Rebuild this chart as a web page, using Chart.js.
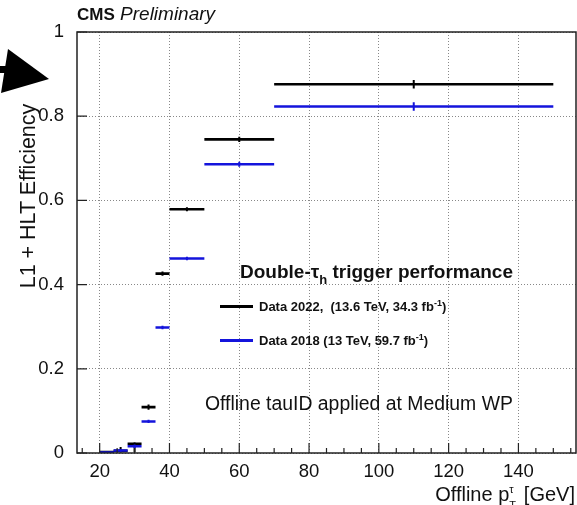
<!DOCTYPE html>
<html><head><meta charset="utf-8">
<script src="https://cdn.jsdelivr.net/npm/chart.js@4/dist/chart.umd.min.js"></script>
<style>
html,body{margin:0;padding:0;background:#fff;}
#wrap{position:relative;width:577px;height:505px;font-family:"Liberation Sans",Arial,Helvetica,sans-serif;color:#111;overflow:hidden;}
canvas{position:absolute;left:0;top:0;}
.t{position:absolute;white-space:nowrap;line-height:1;}
sub,sup{line-height:0;}
</style></head><body>
<div id="wrap">
<canvas id="c" width="577" height="505"></canvas>
<svg style="position:absolute;left:0;top:0" width="60" height="100">
  <polygon points="8,49 49,79 1,93" fill="#000"/>
  <rect x="0" y="66" width="12" height="7" fill="#000"/>
</svg>
<div class="t" style="left:77px;top:4px;font-size:19px"><b style="font-size:17px">CMS</b> <i>Preliminary</i></div>
<div class="t" style="left:240px;top:262px;font-size:19px;font-weight:bold">Double-τ<sub style="font-size:13px;vertical-align:-6px">h</sub> trigger performance</div>
<div style="position:absolute;left:220px;top:305px;width:33px;height:3px;background:#000"></div>
<div class="t" style="left:259px;top:300px;font-size:13px;font-weight:bold">Data 2022,&nbsp; (13.6 TeV, 34.3 fb<sup style="font-size:9px;vertical-align:5px">-1</sup>)</div>
<div style="position:absolute;left:220px;top:339px;width:33px;height:3px;background:#1414dc"></div>
<div class="t" style="left:259px;top:334px;font-size:13px;font-weight:bold">Data 2018 (13 TeV, 59.7 fb<sup style="font-size:9px;vertical-align:5px">-1</sup>)</div>
<div class="t" style="left:205px;top:394px;font-size:19.4px">Offline tauID applied at Medium WP</div>
<div class="t" style="right:2px;top:484px;font-size:20px">Offline p<span style="display:inline-block;position:relative;width:9px;height:1px"><span style="position:absolute;left:0;top:-16px;font-size:11px">τ</span><span style="position:absolute;left:0;top:0px;font-size:11px">T</span></span> [GeV]</div>
<div class="t" style="left:29px;top:196px;font-size:21.5px;transform:translate(-50%,-50%) rotate(-90deg)">L1 + HLT Efficiency</div>
</div>
<script>
const binLo = [20, 24, 28, 32, 36, 40, 50, 70];
const binHi = [24, 28, 32, 36, 40, 50, 70, 150];
const eff2022 = [0.002, 0.005, 0.022, 0.109, 0.426, 0.579, 0.745, 0.876];
const err2022Lo = [0.002, 0.004, 0.020, 0.006, 0.005, 0.005, 0.006, 0.010];
const err2022Hi = [0.002, 0.009, 0.003, 0.006, 0.005, 0.005, 0.006, 0.010];
const eff2018 = [0.001, 0.006, 0.016, 0.075, 0.298, 0.462, 0.686, 0.823];
const err2018Lo = [0.001, 0.003, 0.004, 0.004, 0.004, 0.004, 0.006, 0.010];
const err2018Hi = [0.001, 0.003, 0.004, 0.004, 0.004, 0.004, 0.006, 0.010];
const xTicks = [20, 40, 60, 80, 100, 120, 140];
const yTicks = [0, 0.2, 0.4, 0.6, 0.8, 1];
const xMinorTicks = [15, 20, 25, 30, 35, 40, 45, 50, 55, 60, 65, 70, 75, 80, 85, 90, 95, 100, 105, 110, 115, 120, 125, 130, 135, 140, 145, 150, 155];

function hbars(vals) {
  const d = [];
  binLo.forEach((lo, i) => { d.push({x: lo, y: vals[i]}, {x: binHi[i], y: vals[i]}, {x: binHi[i], y: null}); });
  return d;
}
function vbars(vals, lo, hi) {
  const d = [];
  binLo.forEach((l, i) => { const c = (l + binHi[i]) / 2; d.push({x: c, y: vals[i] - lo[i]}, {x: c, y: vals[i] + hi[i]}, {x: c, y: null}); });
  return d;
}
const BLUE = '#1414dc';
const ds = (data, color, w, order) => ({data, borderColor: color, backgroundColor: color, borderWidth: w, showLine: true, pointRadius: 0, pointHoverRadius: 0, spanGaps: false, order, borderCapStyle: 'butt'});

const framePlugin = {
  id: 'frame',
  afterDraw(chart) {
    const {ctx, chartArea: a, scales: {x, y}} = chart;
    ctx.save();
    ctx.strokeStyle = '#222';
    ctx.lineWidth = 1.5;
    ctx.strokeRect(a.left, a.top, a.right - a.left, a.bottom - a.top);
    ctx.lineWidth = 1.2;
    ctx.beginPath();
    xMinorTicks.forEach(v => {
      const px = x.getPixelForValue(v);
      if (px < a.left || px > a.right) return;
      const len = xTicks.includes(v) ? 10 : 5;
      ctx.moveTo(px, a.bottom); ctx.lineTo(px, a.bottom - len);
    });
    yTicks.forEach(v => {
      const py = y.getPixelForValue(v);
      ctx.moveTo(a.left, py); ctx.lineTo(a.left + 10, py);
    });
    ctx.stroke();
    ctx.restore();
  }
};

new Chart(document.getElementById('c'), {
  type: 'scatter',
  data: {datasets: [
    ds(hbars(eff2022), '#000', 2.6, 2),
    ds(vbars(eff2022, err2022Lo, err2022Hi), '#000', 2, 2),
    ds(hbars(eff2018), BLUE, 2.6, 1),
    ds(vbars(eff2018, err2018Lo, err2018Hi), BLUE, 2, 1)
  ]},
  options: {
    responsive: false, animation: false, devicePixelRatio: 1,
    layout: {padding: {left: 0, right: 1, top: 32, bottom: 0}},
    plugins: {legend: {display: false}, tooltip: {enabled: false}},
    scales: {
      x: {
        type: 'linear', min: 13.5, max: 156.5,
        afterBuildTicks: (s) => { s.ticks = xTicks.map(v => ({value: v})); },
        afterFit: (s) => { s.height = 52; },
        ticks: {padding: 8, color: '#111', font: {family: 'Liberation Sans', size: 18.5}},
        grid: {color: '#888', lineWidth: 1, drawTicks: false},
        border: {display: false, dash: [1, 2]}
      },
      y: {
        type: 'linear', min: 0, max: 1,
        afterBuildTicks: (s) => { s.ticks = yTicks.map(v => ({value: v})); },
        afterFit: (s) => { s.width = 77; },
        ticks: {padding: 13, color: '#111', font: {family: 'Liberation Sans', size: 18.5}, callback: (v) => String(v)},
        grid: {color: '#888', lineWidth: 1, drawTicks: false},
        border: {display: false, dash: [1, 2]}
      }
    }
  },
  plugins: [framePlugin]
});
</script>
</body></html>
